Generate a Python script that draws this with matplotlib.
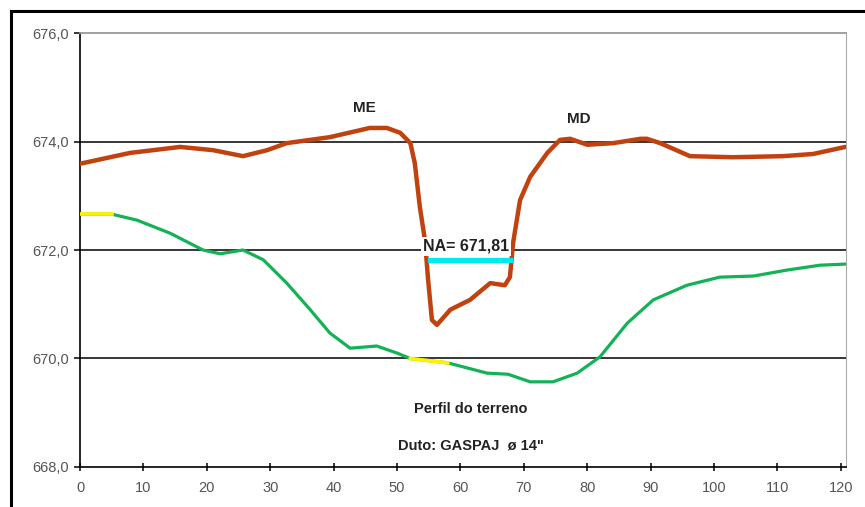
import matplotlib.pyplot as plt
from matplotlib.patches import Rectangle

plt.rcParams["font.family"] = ["Liberation Sans", "DejaVu Sans"]

# Perfil do terreno (margem / leito)
terreno_x = [0, 7.9, 15.8, 21.0, 25.7, 29.5, 32.6, 39.4, 45.7, 48.4, 50.5, 52.1,
             52.8, 53.6, 54.4, 54.9, 55.5, 56.3, 58.4, 61.5, 64.7, 67.0, 67.8,
             68.3, 69.4, 71.0, 73.7, 75.7, 77.3, 80.0, 84.1, 88.4, 89.4, 91.5,
             96.2, 103.0, 110.9, 115.6, 120.7]
terreno_y = [673.59, 673.79, 673.90, 673.84, 673.73, 673.84, 673.97, 674.08,
             674.25, 674.25, 674.16, 673.97, 673.60, 672.79, 672.18, 671.45,
             670.71, 670.62, 670.90, 671.08, 671.39, 671.35, 671.50, 672.13,
             672.92, 673.35, 673.79, 674.03, 674.05, 673.94, 673.97, 674.05,
             674.05, 673.97, 673.73, 673.71, 673.73, 673.77, 673.90]

# Duto
duto_x = [0, 5.05, 9.0, 14.2, 19.4, 22.1, 25.7, 28.9, 32.6, 36.3, 39.4, 42.6,
          46.8, 50.0, 52.1, 55.0, 58.0, 64.2, 67.5, 71.0, 74.6, 78.4, 82.0,
          86.3, 90.4, 95.7, 100.9, 106.2, 111.5, 116.7, 120.7]
duto_y = [672.66, 672.66, 672.55, 672.31, 672.00, 671.93, 672.00, 671.82,
          671.39, 670.90, 670.47, 670.19, 670.23, 670.10, 670.00, 669.96,
          669.92, 669.73, 669.71, 669.57, 669.57, 669.73, 670.03, 670.65,
          671.08, 671.35, 671.50, 671.52, 671.63, 671.72, 671.74]

# Trechos em amarelo do duto
amarelo_trechos = [(0, 5.05), (52.1, 58.0)]

# Nível d'água
na_valor = 671.81
na_x = [55.2, 67.8]

x_ticks = list(range(0, 121, 10))
y_ticks = [668, 670, 672, 674, 676]

fig = plt.figure(figsize=(8.65, 5.07), dpi=100)
ax = fig.add_axes([0.0925, 0.0789, 0.8855, 0.856])

# moldura externa
fig.patches.append(Rectangle((11 / 865, -0.1), 1.2, 1.1 - 11 / 507,
                             transform=fig.transFigure, fill=False,
                             edgecolor="black", linewidth=2.2))

for yv in [670, 672, 674]:
    ax.axhline(yv, color="black", linewidth=1.1, zorder=1)

ax.plot(terreno_x, terreno_y, color="#C1420F", linewidth=3.2,
        solid_joinstyle="round", solid_capstyle="round", zorder=3)
ax.plot(duto_x, duto_y, color="#13B257", linewidth=2.3,
        solid_joinstyle="round", zorder=3)
for x0, x1 in amarelo_trechos:
    xs = [x for x in duto_x if x0 <= x <= x1]
    ys = [y for x, y in zip(duto_x, duto_y) if x0 <= x <= x1]
    ax.plot(xs, ys, color="#FFF200", linewidth=2.6, zorder=4)

ax.plot(na_x, [na_valor, na_valor], color="#00E8F0", linewidth=3.8, zorder=4)

rotulo = dict(ha="center", va="center", fontweight="bold", color="#222222")
ax.text(60.9, 672.07, "NA= 671,81", fontsize=11.5, zorder=5,
        bbox=dict(facecolor="white", edgecolor="none", pad=1.5), **rotulo)
ax.text(44.9, 674.62, "ME", fontsize=11, **rotulo)
ax.text(78.6, 674.42, "MD", fontsize=11, **rotulo)
ax.text(61.6, 669.07, "Perfil do terreno", fontsize=10.5, **rotulo)
ax.text(61.6, 668.4, "Duto: GASPAJ  \u00f8 14\"", fontsize=10.5, **rotulo)

ax.set_xlim(0, 120.8)
ax.set_ylim(668, 676)
ax.set_xticks(x_ticks)
ax.set_yticks(y_ticks)
ax.set_yticklabels([f"{v:.1f}".replace(".", ",") for v in y_ticks])
ax.tick_params(axis="both", labelcolor="#555555", color="black",
               length=4, width=1.1)
ax.tick_params(axis="x", direction="inout", length=6, labelsize=10.5, pad=7)
ax.tick_params(axis="y", labelsize=10.5, pad=4)

ax.spines["left"].set_color("black")
ax.spines["bottom"].set_color("black")
ax.spines["left"].set_linewidth(1.2)
ax.spines["bottom"].set_linewidth(1.2)
ax.spines["top"].set_color("#999999")
ax.spines["right"].set_color("#aaaaaa")
ax.spines["top"].set_linewidth(1.3)

fig.savefig("out.png", dpi=100)
plt.close(fig)
